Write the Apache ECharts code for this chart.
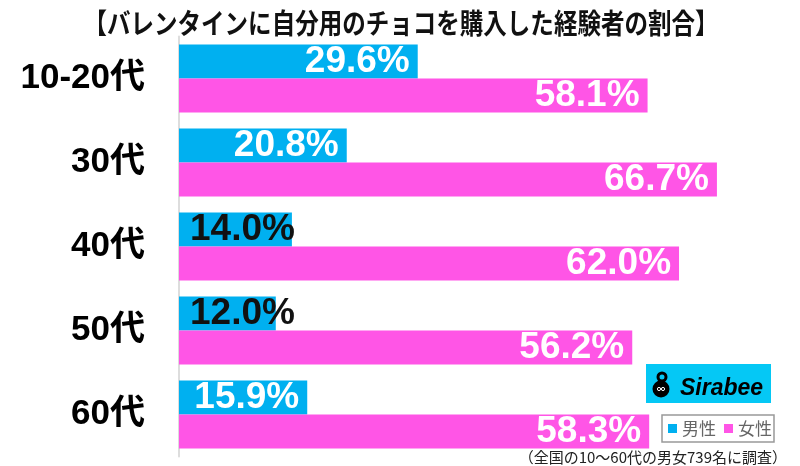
<!DOCTYPE html>
<html><head><meta charset="utf-8">
<script src="https://cdn.jsdelivr.net/npm/echarts@6/dist/echarts.min.js"></script>
<style>html,body{margin:0;padding:0;background:#fff}#c{width:800px;height:466px}</style>
</head><body><div id="c"></div>
<script>
const categories = ['10-20代', '30代', '40代', '50代', '60代'];
const maleValues = [29.6, 20.8, 14.0, 12.0, 15.9];
const femaleValues = [58.1, 66.7, 62.0, 56.2, 58.3];
const seriesNames = ['男性', '女性'];
const titleText = '【バレンタインに自分用のチョコを購入した経験者の割合】';
const noteText = '（全国の10〜60代の男女739名に調査）';

const numFont = "'Liberation Sans','Noto Sans CJK JP',sans-serif";
const jpFont = "'Noto Sans CJK JP',sans-serif";

function mk(vals) {
  return vals.map(v => v < 15 ? {
    value: v,
    label: { position: 'insideLeft', distance: 11, color: '#111' }
  } : v);
}
const labelBase = {
  show: true, position: 'insideRight', distance: 8, color: '#fff',
  fontSize: 37, fontWeight: 'bold', fontFamily: numFont,
  formatter: p => p.value.toFixed(1) + '%'
};

const chart = echarts.init(document.getElementById('c'), null, { renderer: 'canvas' });
chart.setOption({
  animation: false,
  backgroundColor: '#fff',
  grid: { left: 179, right: 0, top: 36.5, bottom: 9.5, containLabel: false },
  xAxis: { type: 'value', min: 0, max: 77, show: false },
  yAxis: {
    type: 'category', data: categories, inverse: true,
    axisLine: { show: true, lineStyle: { color: '#dddddd', width: 2 } },
    axisTick: { show: false },
    axisLabel: { margin: 34, fontSize: 35, fontWeight: 'bold', color: '#000', fontFamily: numFont }
  },
  legend: {
    data: seriesNames, left: 662, top: 415, icon: 'rect', itemWidth: 9, itemHeight: 9, itemGap: 8,
    textStyle: { fontSize: 17, color: '#666', fontFamily: jpFont },
    borderColor: '#999', borderWidth: 1.5, padding: [5, 2, 5, 6]
  },
  series: [
    { name: seriesNames[0], type: 'bar', data: mk(maleValues), barWidth: 34, barGap: '0%',
      itemStyle: { color: '#00b0f0' }, label: labelBase },
    { name: seriesNames[1], type: 'bar', data: mk(femaleValues), barWidth: 34, barGap: '0%',
      itemStyle: { color: '#ff55e6' }, label: labelBase }
  ],
  graphic: [
    { type: 'text', x: 401, y: 23, scaleX: 0.84, z: 10,
      style: { text: titleText, x: 0, y: 0, textAlign: 'center', textVerticalAlign: 'middle',
        font: "bold 28px 'Noto Sans CJK JP',sans-serif", fill: '#111' } },
    { type: 'text', x: 787, y: 457, z: 10,
      style: { text: noteText, textAlign: 'right', textVerticalAlign: 'middle',
        font: "15px 'Noto Sans CJK JP',sans-serif", fill: '#222' } },
    { type: 'rect', shape: { x: 646, y: 364, width: 125, height: 39 }, style: { fill: '#05c8f5' }, z: 10 },
    { type: 'circle', shape: { cx: 661, cy: 389, r: 8.5 }, style: { fill: '#000' }, z: 11 },
    { type: 'circle', shape: { cx: 662, cy: 377, r: 4 }, style: { fill: 'none', stroke: '#000', lineWidth: 3 }, z: 11 },
    { type: 'circle', shape: { cx: 659, cy: 389, r: 1.6 }, style: { fill: 'none', stroke: '#fff', lineWidth: 1 }, z: 12 },
    { type: 'circle', shape: { cx: 663, cy: 389, r: 1.6 }, style: { fill: 'none', stroke: '#fff', lineWidth: 1 }, z: 12 },
    { type: 'text', x: 680, y: 389, z: 11,
      style: { text: 'Sirabee', textVerticalAlign: 'middle',
        font: "italic bold 23px 'Liberation Sans',sans-serif", fill: '#000' } }
  ]
});
</script></body></html>
